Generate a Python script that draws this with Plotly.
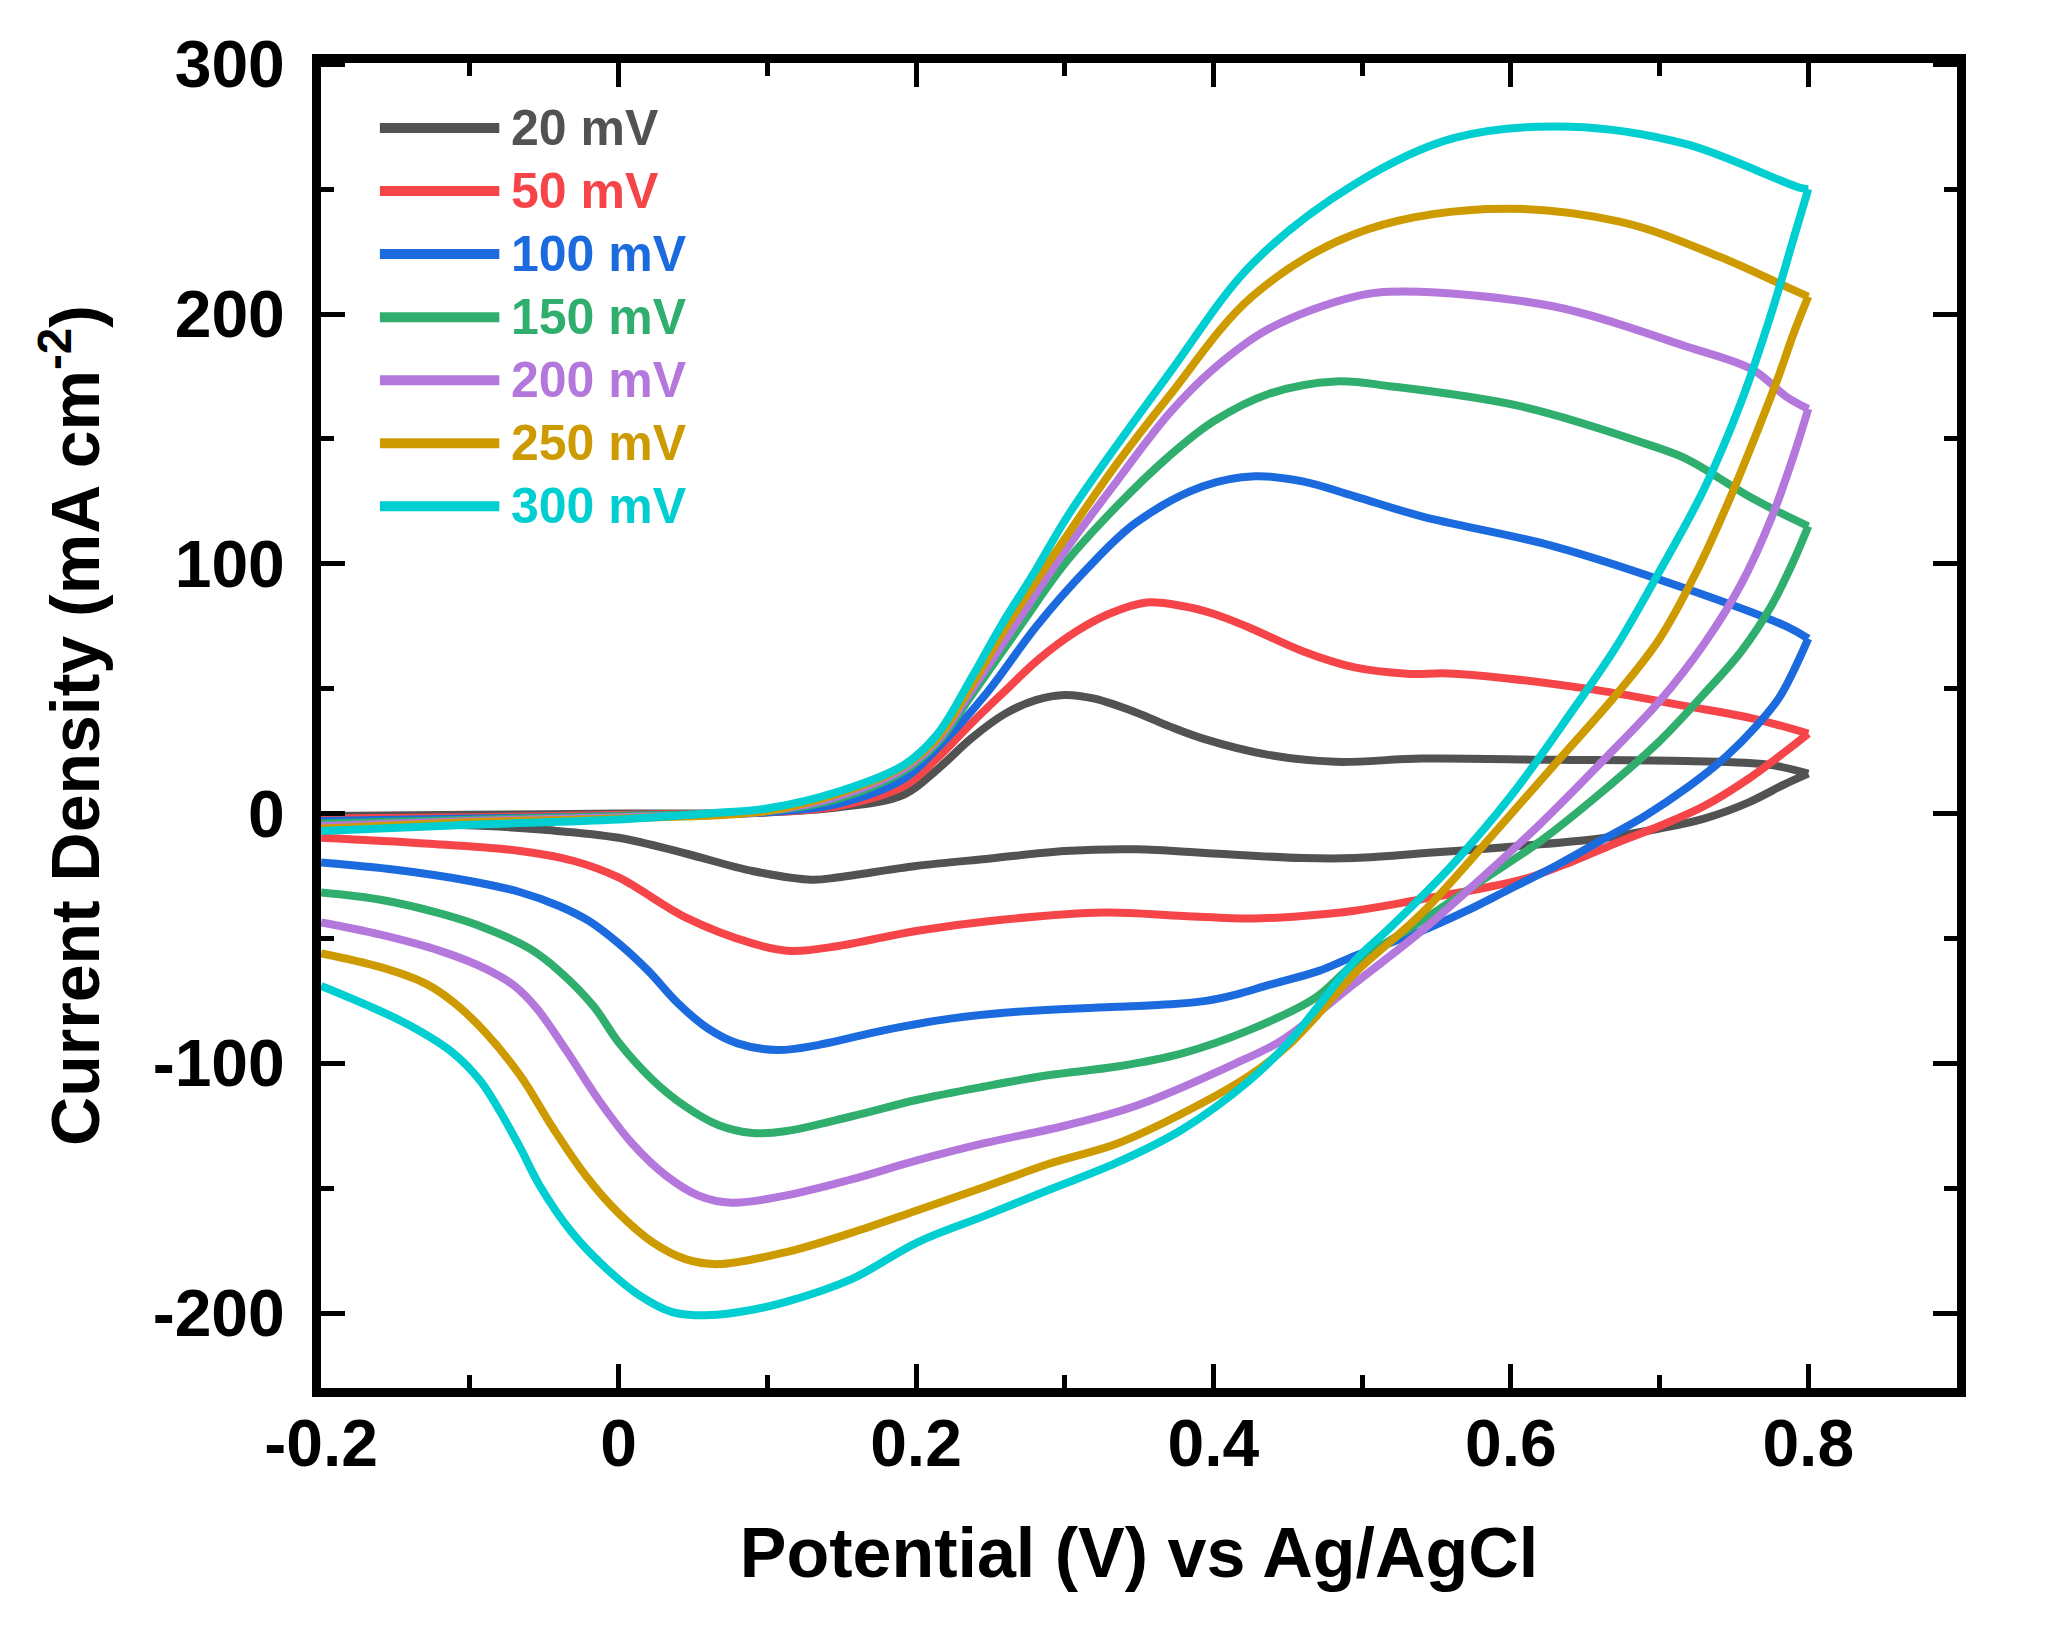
import plotly.graph_objects as go

# Cyclic voltammograms at different scan rates (potential in V, current density in mA cm^-2)
SCAN_RATES = ["20 mV", "50 mV", "100 mV", "150 mV", "200 mV", "250 mV", "300 mV"]
COLORS = ["#525252", "#F64548", "#1B6BDE", "#30AE6E", "#B477DB", "#CD9B00", "#00CED0"]

# 20 mV
E_FWD_20 = [-0.2, -0.1, 0.0, 0.1, 0.148, 0.192, 0.215, 0.237, 0.26, 0.281, 0.3, 0.32, 0.348,
            0.37, 0.393, 0.437, 0.482, 0.54, 0.629, 0.718, 0.774, 0.8]
J_FWD_20 = [-1, -0.5, 0, 0.5, 2.5, 7.6, 18, 30, 40, 45.5, 47.5, 46, 40.5,
            35, 30, 23.5, 20.7, 22, 21.5, 21, 19.5, 16]
E_REV_20 = [0.8, 0.785, 0.76, 0.73, 0.7, 0.66, 0.6, 0.55, 0.495, 0.46, 0.4,
            0.348, 0.3, 0.25, 0.2, 0.148, 0.13, 0.09, 0.045, 0.0, -0.05, -0.089, -0.2]
J_REV_20 = [16, 12, 4.5, -2, -6, -10, -13.3, -15.5, -17.8, -17.8, -16,
            -14.3, -15, -18, -21, -25.5, -26.5, -23, -16, -9.7, -6.5, -5, -3]

# 50 mV
E_FWD_50 = [-0.2, -0.1, 0.0, 0.1, 0.148, 0.192, 0.214, 0.237, 0.259, 0.283, 0.308, 0.33, 0.355,
            0.38, 0.4, 0.422, 0.46, 0.495, 0.53, 0.562, 0.651, 0.718, 0.763, 0.8]
J_FWD_50 = [-2, -1.5, -0.5, 0.5, 3, 11, 22, 36, 48.6, 62, 73, 80, 84.5,
            83, 80, 75, 65, 58.5, 56, 56, 50, 43, 38, 32]
E_REV_50 = [0.8, 0.785, 0.76, 0.73, 0.7, 0.67, 0.64, 0.61, 0.58, 0.54, 0.495, 0.46, 0.426,
            0.38, 0.326, 0.25, 0.2, 0.148, 0.116, 0.09, 0.045, 0.0, -0.03, -0.066, -0.13, -0.2]
J_REV_50 = [32, 25, 14, 3, -5, -12, -19.5, -26, -30, -34.3, -38.9, -41, -42,
            -41, -39.6, -43, -47, -53, -55, -52, -41.6, -25.6, -19, -15, -12, -9.7]

# 100 mV
E_FWD_100 = [-0.2, -0.1, 0.0, 0.1, 0.148, 0.192, 0.214, 0.248, 0.281, 0.315, 0.348, 0.393, 0.428,
             0.46, 0.495, 0.54, 0.629, 0.718, 0.785, 0.8]
J_FWD_100 = [-3, -2, -1, 0.5, 4, 14, 26, 48.6, 75, 98, 116.5, 131, 135,
             133, 127, 119, 107, 90, 75, 70]
E_REV_100 = [0.8, 0.79, 0.78, 0.765, 0.745, 0.72, 0.69, 0.66, 0.63, 0.6, 0.57, 0.54, 0.495,
             0.471, 0.438, 0.415, 0.395, 0.371, 0.335, 0.268, 0.223, 0.179, 0.134, 0.107, 0.08,
             0.06, 0.04, 0.02, 0.0, -0.02, -0.04, -0.066, -0.1, -0.15, -0.2]
J_REV_100 = [70, 57, 46, 35, 23, 11, -1, -11, -21, -30, -39, -47, -57,
             -63, -68.5, -72.5, -75, -76.4, -77.4, -79.4, -82.1, -86.7, -92.7, -94.7, -92,
             -86, -76, -63, -52, -43, -37, -31.5, -27, -22.5, -19.6]

# 150 mV
E_FWD_150 = [-0.2, -0.1, 0.0, 0.1, 0.148, 0.192, 0.214, 0.237, 0.27, 0.3, 0.335, 0.37, 0.4,
             0.437, 0.482, 0.52, 0.607, 0.696, 0.718, 0.763, 0.8]
J_FWD_150 = [-4, -2.5, -1, 1, 6, 17, 28, 47, 75, 100, 123, 143, 157,
             168, 173, 171, 163, 147, 142, 126, 115]
E_REV_150 = [0.8, 0.79, 0.775, 0.755, 0.73, 0.7, 0.66, 0.62, 0.58, 0.54, 0.495, 0.468, 0.424,
             0.379, 0.335, 0.29, 0.246, 0.201, 0.157, 0.112, 0.09, 0.067, 0.045, 0.023, 0.0005,
             -0.017, -0.04, -0.06, -0.089, -0.12, -0.16, -0.2]
J_REV_150 = [115, 101, 83, 65, 48, 29, 8, -11, -27, -43, -60, -74, -86.7,
             -96, -101.3, -104.7, -109.3, -114.6, -121.2, -127.2, -127.9, -124.7, -117.3, -106.7, -92,
             -77, -63, -54, -46, -40, -34.5, -31.6]

# 200 mV
E_FWD_200 = [-0.2, -0.1, 0.0, 0.1, 0.148, 0.192, 0.214, 0.237, 0.266, 0.3, 0.335, 0.37, 0.4,
             0.437, 0.495, 0.528, 0.629, 0.718, 0.763, 0.785, 0.8]
J_FWD_200 = [-5, -3, -1.5, 1, 7, 18, 29, 49, 75, 105, 133, 160, 178,
             194, 207, 209, 203, 187, 177.6, 167, 162]
E_REV_200 = [0.8, 0.79, 0.775, 0.755, 0.73, 0.7, 0.66, 0.62, 0.58, 0.54, 0.495, 0.446, 0.415,
             0.348, 0.3, 0.246, 0.2, 0.156, 0.112, 0.076, 0.054, 0.032, 0.009, -0.013, -0.035,
             -0.055, -0.07, -0.09, -0.12, -0.16, -0.2]
J_REV_200 = [162, 143, 118, 92, 68, 45, 20, -4, -26, -47, -68, -90.8, -100,
             -117, -125, -132, -139, -146.6, -153, -155.8, -153, -145, -132, -115, -95,
             -78, -69, -62, -55, -48.5, -43.6]

# 250 mV
E_FWD_250 = [-0.2, -0.1, 0.0, 0.1, 0.148, 0.192, 0.214, 0.237, 0.261, 0.3, 0.335, 0.37, 0.426,
             0.495, 0.584, 0.673, 0.74, 0.785, 0.8]
J_FWD_250 = [-6, -3.5, -2, 1, 8, 19, 30, 51, 75, 110, 140, 167, 207,
             232, 242, 237, 223, 211, 207]
E_REV_250 = [0.8, 0.79, 0.78, 0.765, 0.745, 0.725, 0.7, 0.67, 0.63, 0.59, 0.54, 0.495, 0.468,
             0.45, 0.424, 0.379, 0.335, 0.29, 0.246, 0.201, 0.157, 0.112, 0.067, 0.045, 0.023,
             0.0, -0.022, -0.044, -0.066, -0.089, -0.11, -0.13, -0.16, -0.2]
J_REV_250 = [207, 192, 175, 152, 123, 97, 70, 47, 20, -7, -40, -64, -82,
             -93, -105, -120.1, -132.2, -140.1, -149.5, -158.8, -167.8, -175.7, -180.4, -178.4, -171.7,
             -160, -145, -126, -105, -88, -76, -68, -61.5, -56]

# 300 mV
E_FWD_300 = [-0.2, -0.1, 0.0, 0.067, 0.1, 0.148, 0.192, 0.214, 0.237, 0.257, 0.28, 0.304, 0.37,
             0.426, 0.495, 0.562, 0.64, 0.718, 0.794, 0.8]
J_FWD_300 = [-7, -4.5, -2.4, 0.3, 2, 8.8, 19.5, 31.5, 54, 75, 97, 121, 176,
             220, 252, 270.5, 275, 268, 250.6, 250]
E_REV_300 = [0.8, 0.79, 0.775, 0.755, 0.73, 0.7, 0.67, 0.64, 0.6, 0.56, 0.52, 0.495, 0.468,
             0.45, 0.424, 0.379, 0.335, 0.29, 0.246, 0.201, 0.157, 0.112, 0.081, 0.058, 0.036,
             0.014, -0.008, -0.031, -0.053, -0.066, -0.08, -0.093, -0.111, -0.14, -0.17, -0.2]
J_REV_300 = [250, 230, 200, 165, 130, 97, 66, 40, 7, -21, -45, -59, -79,
             -92, -107, -126.5, -139.8, -150.5, -161.1, -171.7, -186.3, -195.6, -199.6, -200.9, -199.6,
             -192.9, -182.3, -168, -149, -134, -119, -107, -96, -85, -76.5, -69]

FORWARD = [(E_FWD_20, J_FWD_20), (E_FWD_50, J_FWD_50), (E_FWD_100, J_FWD_100),
           (E_FWD_150, J_FWD_150), (E_FWD_200, J_FWD_200), (E_FWD_250, J_FWD_250),
           (E_FWD_300, J_FWD_300)]
REVERSE = [(E_REV_20, J_REV_20), (E_REV_50, J_REV_50), (E_REV_100, J_REV_100),
           (E_REV_150, J_REV_150), (E_REV_200, J_REV_200), (E_REV_250, J_REV_250),
           (E_REV_300, J_REV_300)]

X_TICKS = [-0.2, 0, 0.2, 0.4, 0.6, 0.8]
X_TICK_TEXT = ["-0.2", "0", "0.2", "0.4", "0.6", "0.8"]
Y_TICKS = [-200, -100, 0, 100, 200, 300]
Y_TICK_TEXT = ["-200", "-100", "0", "100", "200", "300"]

FONT = "Liberation Sans, Arial, sans-serif"


def main():
    fig = go.Figure()

    for i, name in enumerate(SCAN_RATES):
        for e, j in (FORWARD[i], REVERSE[i]):
            fig.add_trace(
                go.Scatter(
                    x=e,
                    y=j,
                    mode="lines",
                    name=name,
                    line=dict(color=COLORS[i], width=8, shape="spline", smoothing=1.0),
                    showlegend=False,
                )
            )

    # legenda desenhada à mão (linhas longas e texto colorido)
    for i, name in enumerate(SCAN_RATES):
        y = 0.951 - i * 0.0476
        fig.add_shape(
            type="line", xref="paper", yref="paper",
            x0=0.036, x1=0.109, y0=y, y1=y,
            line=dict(color=COLORS[i], width=10),
        )
        fig.add_annotation(
            xref="paper", yref="paper", x=0.115, y=y,
            text=name, showarrow=False, xanchor="left", yanchor="middle",
            font=dict(family=FONT, size=50, color=COLORS[i], weight="bold"),
        )

    axis_common = dict(
        showline=True,
        linewidth=9,
        linecolor="black",
        mirror="ticks",
        ticks="inside",
        ticklen=24,
        tickwidth=5,
        tickcolor="black",
        showgrid=False,
        zeroline=False,
        tickfont=dict(family=FONT, size=66, color="black", weight="bold"),
    )

    fig.update_xaxes(
        range=[-0.2001, 0.9],
        tickmode="array",
        tickvals=X_TICKS,
        ticktext=X_TICK_TEXT,
        ticklabelstandoff=-10,
        minor=dict(ticks="inside", ticklen=13, tickwidth=5, tickcolor="black",
                   tick0=0, dtick=0.1),
        title=dict(text="Potential (V) vs Ag/AgCl",
                   font=dict(family=FONT, size=70, color="black", weight="bold"),
                   standoff=52),
        **axis_common,
    )
    fig.update_yaxes(
        range=[-230, 300.5],
        tickmode="array",
        tickvals=Y_TICKS,
        ticktext=Y_TICK_TEXT,
        ticklabelstandoff=14,
        minor=dict(ticks="inside", ticklen=13, tickwidth=5, tickcolor="black",
                   tick0=0, dtick=50),
        title=dict(text="Current Density (mA cm<sup>-2</sup>)",
                   font=dict(family=FONT, size=68, color="black", weight="bold"),
                   standoff=34),
        **axis_common,
    )

    fig.update_layout(
        width=2060,
        height=1648,
        margin=dict(l=313, r=111, t=55, b=268),
        plot_bgcolor="white",
        paper_bgcolor="white",
        font=dict(family=FONT, color="black"),
        showlegend=False,
    )

    fig.write_html("out.html")


if __name__ == "__main__":
    main()
